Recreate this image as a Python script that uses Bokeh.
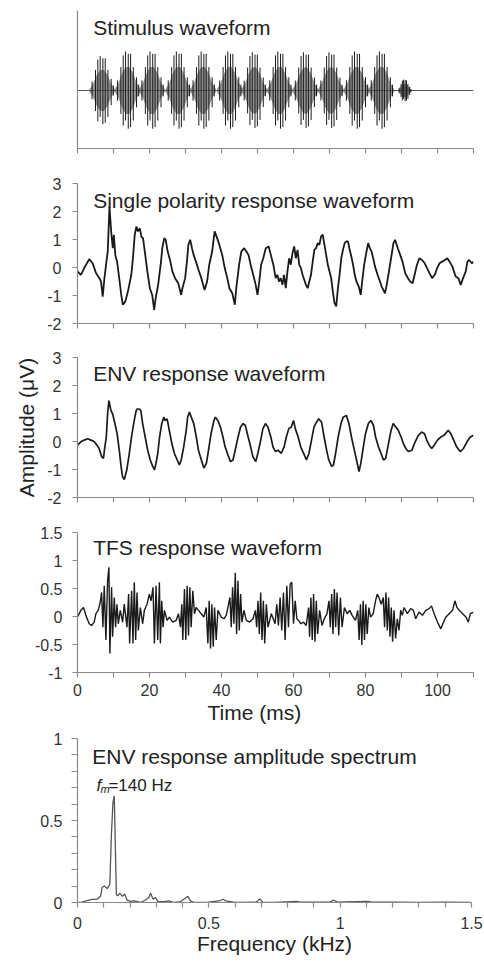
from bokeh.plotting import figure
from bokeh.layouts import column
from bokeh.models import Range1d, FixedTicker, Label, CustomJSTickFormatter, Title
from bokeh.embed import file_html
from bokeh.resources import INLINE

# ---------------- data ----------------
# Stimulus: AM tone bursts (140 Hz modulation)
stim_centers = [6.85, 13.9, 20.7, 28.0, 34.9, 42.3, 49.1, 56.2, 63.3, 70.4, 77.5, 84.4, 90.9]
stim_peaks = [0.88, 1.0, 1.0, 1.0, 1.0, 1.0, 0.98, 1.0, 0.98, 0.98, 1.0, 1.0, 0.28]
stim_widths = [1.0, 1.0, 1.0, 1.0, 1.0, 1.0, 1.0, 1.0, 1.0, 1.0, 1.0, 1.0, 0.55]
burst_line_off = [-2.8, -1.85, -1.2, -0.55, 0.2, 0.85, 1.6, 2.5, 3.1]
burst_line_top = [0.26, 0.6, 0.9, 1.0, 0.94, 0.94, 0.6, 0.34, 0.15]
burst_line_bot = [0.26, 0.6, 0.9, 0.77, 0.98, 0.94, 0.77, 0.43, 0.15]
burst_fill_off = [-3.55, -2.5, -1.5, -0.5, 0.5, 1.5, 2.5, 3.55]
burst_fill_amp = [0.03, 0.2, 0.45, 0.6, 0.6, 0.45, 0.2, 0.03]
stim_base_t = [0, 110]
stim_base_v = [0, 0]

# Single polarity response (uV)
sp_t = [0.0, 0.93, 1.87, 3.27, 4.2, 5.14, 6.07, 6.54, 7.0, 7.48, 7.94, 8.4, 8.88, 9.35, 9.8, 10.1,
        10.5, 11.0, 11.7, 12.15, 12.6, 13.3, 14.0, 14.95, 15.4, 15.9, 16.35, 16.8, 17.3, 17.75, 18.2,
        18.7, 19.4, 20.1, 20.75, 21.3, 21.7, 22.4, 23.2, 23.55, 24.1, 24.5, 25.05, 25.7, 26.35, 27.1,
        28.0, 28.8, 29.15, 29.9, 30.4, 30.8, 31.3, 31.8, 32.25, 32.9, 33.6, 34.4, 35.3, 36.0, 36.6,
        37.4, 38.1, 38.8, 39.4, 40.2, 40.9, 41.6, 42.2, 43.0, 43.7, 44.1, 44.9, 45.5, 46.3, 46.9, 47.5,
        48.1, 48.8, 49.5, 50.0, 50.5, 51.0, 51.6, 52.3, 53.1, 53.7, 54.4, 55.05, 55.51, 55.98, 56.45,
        56.92, 57.38, 57.85, 58.32, 58.79, 59.25, 59.72, 60.19, 60.65, 61.12, 61.59, 62.06, 62.52,
        62.99, 63.46, 63.93, 64.39, 64.86, 65.33, 65.79, 66.26, 66.73, 67.2, 67.66, 68.13, 68.6, 69.07,
        69.53, 70.0, 70.47, 70.93, 71.4, 71.87, 72.34, 72.8, 73.27, 73.74, 74.21, 74.67, 75.14, 75.61,
        76.07, 76.54, 77.01, 77.48, 78.13, 78.69, 79.07, 79.63, 80.28, 80.75, 81.21, 81.68, 82.15,
        82.62, 83.36, 84.02, 84.49, 85.42, 85.89, 86.36, 87.1, 87.76, 88.22, 88.97, 89.63, 90.28,
        91.03, 91.78, 92.43, 93.08, 93.64, 94.3, 94.95, 95.7, 96.45, 97.1, 97.76, 98.5, 99.25, 99.91,
        100.56, 101.31, 102.06, 102.71, 103.36, 104.11, 105.05, 105.79, 106.45, 107.1, 107.85,
        108.32, 108.79, 109.53, 110.0]
sp_v = [-0.14, -0.26, -0.02, 0.3, 0.15, -0.2, -0.38, -0.5, -1.04, -0.38, 0.1, 0.57, 2.18, 1.29, 0.69, 1.17,
        0.45, 0.21, -0.5, -0.98, -1.33, -1.21, -0.86, -0.26, 0.33, 1.17, 1.46, 1.29, 1.4, 1.1, 1.05,
        0.57, -0.14, -0.74, -0.98, -1.51, -1.1, -0.62, 0.21, 0.69, 1.05, 0.99, 0.57, 0.27, -0.14, -0.38,
        -0.56, -0.98, -0.74, -0.38, 0.21, 0.81, 0.99, 0.69, 0.45, 0.21, -0.08, -0.38, -0.8, -0.5, 0.1,
        0.57, 1.29, 1.05, 0.81, 0.45, -0.02, -0.38, -0.74, -0.92, -1.33, -0.74, 0.1, 0.57, 0.69, 0.57, 0.45,
        0.1, -0.26, -0.62, -0.98, -0.5, 0.1, 0.33, 0.69, 0.75, 0.45, 0.1, -0.38, -0.26, -0.5, -0.38,
        -0.62, -0.26, -0.74, -0.14, 0.33, 0.1, 0.51, 0.75, 0.33, 0.63, 0.1, -0.02, -0.26,
        -0.44, -0.62, -0.74, -0.5, -0.26, 0.21, 0.63, 0.69, 0.87, 0.81, 1.11, 1.17, 0.81, 0.45,
        0.1, -0.14, -0.38, -0.86, -1.27, -1.39, -0.74, -0.26, 0.33, 0.63, 0.87, 0.93, 0.93, 0.63,
        0.39, 0.1, -0.26, -0.5, -0.68, -0.98, -0.5, 0.1, 0.57, 0.87, 0.69, 0.57, 0.33,
        0.04, -0.26, -0.5, -0.68, -0.92, -0.62, -0.26, 0.33, 0.87, 0.99, 0.69, 0.45, 0.21,
        -0.2, -0.38, -0.5, -0.56, -0.26, 0.1, 0.33, 0.27, 0.15, -0.02, -0.2, -0.38, -0.26, -0.02,
        0.15, 0.21, 0.27, 0.33, 0.21, 0.04, -0.32, -0.38, -0.62, -0.38, -0.14,
        0.21, 0.27, 0.15, 0.21]

# ENV response (uV)
env_t = [0.0, 0.93, 1.86, 2.8, 3.7, 4.6, 5.4, 6.0, 6.7, 7.2, 7.6, 8.0, 8.36, 8.73, 9.3, 9.75, 10.2,
         11.0, 11.6, 12.1, 12.5, 13.0, 13.7, 14.4, 15.0, 15.6, 16.2, 16.5, 17.2, 17.6, 18.1, 18.8,
         19.5, 20.2, 20.9, 21.4, 21.8, 22.3, 22.8, 23.4, 24.0, 24.3, 24.9, 25.5, 26.2, 26.9, 27.7,
         28.3, 28.8, 29.5, 30.2, 30.6, 31.1, 31.6, 32.3, 33.0, 33.6, 34.4, 35.1, 35.8, 36.4, 37.1,
         37.9, 38.3, 39.0, 39.7, 40.4, 41.0, 41.8, 42.5, 43.2, 43.8, 44.6, 45.3, 46.0, 46.6, 47.4,
         48.1, 48.7, 49.5, 50.1, 50.9, 51.5, 52.2, 52.9, 53.7, 54.3, 55.0, 55.7, 56.6, 57.4, 58.0,
         58.7, 59.4, 60.0, 60.5, 61.3, 62.0, 63.0, 63.6, 64.3, 65.0, 65.7, 66.4, 67.0, 67.8, 68.5,
         69.2, 69.8, 70.6, 71.1, 71.7, 72.4, 73.2, 73.8, 74.7, 75.4, 76.1, 76.9, 77.5, 78.2, 78.7,
         79.4, 80.0, 80.8, 81.5, 82.2, 82.8, 83.6, 84.3, 85.0, 85.6, 86.4, 87.1, 87.7, 88.4, 89.1,
         89.9, 90.5, 91.2, 91.9, 92.9, 93.8, 94.7, 95.6, 96.4, 97.0, 97.7, 98.4, 99.1, 100.0, 100.9,
         101.8, 103.0, 103.7, 104.5, 105.3, 106.3, 107.2, 108.2, 109.1, 110.0]
env_v = [-0.13, -0.01, 0.05, 0.1, 0.05, 0.0, -0.13, -0.25, -0.54, -0.6, -0.19, 0.16, 0.99, 1.46, 1.1, 0.99, 0.75,
         0.28, -0.31, -0.89, -1.25, -1.36, -1.01, -0.42, 0.16, 0.64, 1.05, 1.16, 1.16, 1.1, 0.64, 0.16,
         -0.31, -0.66, -0.89, -1.01, -0.78, -0.42, 0.16, 0.64, 0.87, 0.75, 0.81, 0.4, -0.07, -0.42, -0.66,
         -0.84, -0.66, -0.19, 0.4, 0.87, 1.05, 0.87, 0.64, 0.16, -0.31, -0.66, -0.95, -0.78, -0.31, 0.28,
         0.75, 0.87, 0.75, 0.52, 0.16, -0.19, -0.48, -0.72, -0.66, -0.31, 0.16, 0.52, 0.64, 0.58, 0.16,
         -0.19, -0.54, -0.72, -0.42, 0.05, 0.46, 0.64, 0.52, 0.16, -0.19, -0.36, -0.31, -0.42, -0.19, 0.16,
         0.46, 0.52, 0.75, 0.46, 0.16, -0.19, -0.48, -0.66, -0.42, 0.05, 0.52, 0.69, 0.81, 0.69, 0.16,
         -0.31, -0.66, -0.89, -0.84, -0.42, 0.16, 0.64, 0.87, 0.93, 0.64, 0.16, -0.31, -0.66, -1.07, -0.78,
         -0.19, 0.28, 0.64, 0.75, 0.58, 0.16, -0.19, -0.42, -0.66, -0.6, -0.07, 0.4, 0.64, 0.52, 0.4,
         0.16, -0.07, -0.25, -0.36, -0.31, -0.01, 0.22, 0.34, 0.28, 0.05, -0.13, -0.25, -0.13, 0.05, 0.16,
         0.22, 0.4, 0.28, 0.05, -0.19, -0.36, -0.25, -0.01, 0.16, 0.22]

# TFS response (uV)
tfs_t = [0.0, 0.93, 1.67, 2.32, 3.25, 3.9, 4.64, 5.11, 5.76, 6.31, 6.69, 7.06, 7.43, 7.89, 8.36, 8.73,
         9.0, 9.47, 9.75, 10.21, 10.58, 10.96, 11.33, 11.88, 12.53, 13.0, 13.74, 14.2, 14.48, 15.04,
         15.41, 15.78, 16.16, 16.53, 16.9, 17.46, 18.1, 18.57, 19.31, 19.96, 20.43, 20.98, 21.36,
         21.82, 22.28, 22.75, 23.03, 23.4, 23.77, 24.14, 24.88, 25.53, 26.46, 27.39, 28.04, 28.6,
         28.97, 29.25, 29.71, 30.08, 30.45, 30.83, 31.2, 31.57, 32.03, 32.5, 32.96, 33.61, 34.35,
         35.1, 35.75, 36.21, 36.58, 36.95, 37.33, 37.7, 38.07, 38.53, 39.0, 39.93, 40.67, 41.32,
         41.97, 42.34, 42.71, 43.08, 43.45, 43.83, 44.2, 44.57, 44.94, 45.31, 45.68, 46.24, 46.89,
         47.82, 48.75, 49.4, 49.77, 50.14, 50.51, 50.88, 51.25, 51.63, 52.0, 52.46, 52.92, 53.85,
         54.88, 55.35, 55.81, 56.28, 56.74, 57.21, 57.67, 58.14, 58.6, 59.07, 59.53, 60.0, 60.47,
         60.93, 61.4, 62.05, 62.79, 63.53, 64.19, 64.47, 64.84, 65.21, 65.58, 65.95, 66.33, 66.7,
         67.26, 67.91, 68.56, 69.3, 69.86, 70.23, 70.6, 70.98, 71.35, 71.72, 72.09, 72.56, 73.02,
         73.49, 74.14, 74.88, 75.63, 76.28, 77.21, 77.86, 78.23, 78.6, 78.98, 79.35, 79.72, 80.09,
         80.47, 80.93, 81.4, 82.14, 82.79, 83.26, 83.72, 84.37, 84.93, 85.3, 85.67, 86.05, 86.42,
         86.79, 87.16, 87.53, 87.91, 88.37, 88.84, 89.3, 89.77, 90.23, 90.7, 91.63, 92.56, 93.3,
         93.95, 94.88, 95.81, 96.74, 97.67, 98.33, 99.07, 100.0, 100.93, 101.67, 102.33, 103.26,
         104.19, 104.84, 105.4, 106.05, 106.98, 107.91, 108.56, 109.12, 110.0]
tfs_v = [-0.01, 0.11, 0.16, 0.02, -0.13, -0.16, -0.1, 0.05, 0.11, 0.25, 0.43, -0.19, 0.55, -0.42, 0.64, 0.88,
         -0.66, 0.52, -0.36, 0.34, -0.19, 0.22, -0.13, 0.11, -0.1, 0.22, -0.19, 0.4, -0.48, 0.46,
         -0.48, 0.61, -0.42, 0.43, -0.25, 0.16, -0.13, 0.11, 0.22, 0.4, 0.28, 0.52, -0.48,
         0.55, -0.42, 0.61, -0.48, 0.28, -0.19, 0.11, -0.07, -0.01, -0.1, -0.07, 0.05, -0.19,
         0.22, -0.42, 0.49, -0.42, 0.55, -0.34, 0.52, -0.19, 0.46, 0.05, 0.16, 0.11, 0.05,
         -0.01, 0.16, -0.48, 0.28, -0.57, 0.22, -0.54, 0.16, -0.42, 0.11, -0.01, -0.04, 0.02,
         0.22, 0.34, -0.19, 0.52, -0.13, 0.78, -0.31, 0.64, -0.25, 0.4, -0.1, 0.11, -0.07,
         -0.1, -0.04, 0.11, -0.19, 0.28, -0.31, 0.43, -0.42, 0.28, -0.48, 0.22, -0.19, 0.05,
         -0.13, 0.22, -0.16, 0.34, -0.25, 0.43, -0.42, 0.55, -0.19, 0.58, 0.61, -0.13, 0.28,
         -0.04, -0.07, -0.13, -0.1, -0.16, 0.16, -0.36, 0.34, -0.42, 0.4, -0.45, 0.28, -0.31,
         0.11, -0.16, -0.04, 0.05, 0.28, -0.19, 0.4, -0.31, 0.49, -0.19, 0.43, -0.34, 0.34,
         -0.19, 0.16, 0.05, 0.11, 0.02, -0.07, 0.11, -0.42, 0.22, -0.51, 0.28, -0.42, 0.22,
         -0.31, 0.16, -0.01, 0.05, 0.28, 0.4, 0.34, 0.22, 0.34, -0.19, 0.43, -0.25, 0.34,
         -0.36, 0.16, -0.45, 0.11, -0.39, -0.04, -0.25, 0.11, 0.02, 0.16, 0.05, 0.14, 0.11,
         -0.04, 0.08, 0.02, 0.11, 0.14, 0.19, 0.05, -0.1, -0.22, -0.1, -0.01, 0.05,
         0.11, 0.28, 0.16, 0.11, 0.05, -0.01, -0.1, 0.05, 0.08]

# ENV amplitude spectrum
spec_f = [0.0, 0.011, 0.05, 0.075, 0.088, 0.094, 0.103, 0.113, 0.123, 0.129, 0.135, 0.14, 0.142, 0.148,
          0.153, 0.161, 0.171, 0.179, 0.189, 0.202, 0.215, 0.24, 0.259, 0.272, 0.278, 0.288, 0.297,
          0.306, 0.329, 0.348, 0.367, 0.39, 0.411, 0.42, 0.43, 0.445, 0.5, 0.544, 0.554, 0.564, 0.6,
          0.68, 0.694, 0.705, 0.75, 0.836, 0.85, 0.96, 0.976, 0.99, 1.02, 1.109, 1.12, 1.2, 1.3, 1.4, 1.5]
spec_v = [0.0, 0.0, 0.018, 0.02, 0.04, 0.093, 0.1, 0.085, 0.11, 0.41, 0.61, 0.65, 0.5, 0.05,
          0.04, 0.057, 0.037, 0.052, 0.015, 0.007, 0.01, 0.0, 0.015, 0.03, 0.057, 0.02, 0.03,
          0.005, 0.005, 0.01, 0.0, 0.003, 0.027, 0.037, 0.01, 0.0, 0.002, 0.012, 0.02, 0.01, 0.0,
          0.002, 0.022, 0.002, 0.0, 0.006, 0.002, 0.002, 0.014, 0.002, 0.004, 0.006, 0.002, 0.002, 0.001, 0.002, 0.0]

time_ticks = [0, 10, 20, 30, 40, 50, 60, 70, 80, 90, 100, 110]
time_major = [0, 20, 40, 60, 80, 100]
time_minor = [10, 30, 50, 70, 90, 110]

assert len(sp_t) == len(sp_v)
assert len(env_t) == len(env_v)
assert len(tfs_t) == len(tfs_v)
assert len(spec_f) == len(spec_v)

# ---------------- styling ----------------
FONT = "Liberation Sans"
AXC = "#8a8a8a"
TXT = "#222222"
LINE = "#1a1a1a"
PLAIN = CustomJSTickFormatter(code="return String(tick);")
BLANK = CustomJSTickFormatter(code="return '';")


def make_fig(top, fh, bottom, y0, y1, left=76, right=12, x0=0, x1=110):
    p = figure(frame_width=484 - left - right, frame_height=fh,
               min_border_top=top, min_border_bottom=bottom,
               min_border_left=left, min_border_right=right,
               x_range=Range1d(x0, x1), y_range=Range1d(y0, y1),
               output_backend="svg", toolbar_location=None, tools="")
    p.grid.visible = False
    p.outline_line_color = None
    p.border_fill_color = "white"
    p.background_fill_color = "white"
    for ax in (p.xaxis[0], p.yaxis[0]):
        ax.axis_line_color = AXC
        ax.axis_line_width = 1.2
        ax.major_tick_line_color = AXC
        ax.minor_tick_line_color = AXC
        ax.major_tick_line_width = 1.2
        ax.minor_tick_line_width = 1.2
        ax.major_tick_in = 0
        ax.major_tick_out = 5
        ax.minor_tick_in = 0
        ax.minor_tick_out = 5
        ax.major_label_text_font = FONT
        ax.major_label_text_font_size = "16px"
        ax.major_label_text_color = "#333333"
    return p


def title(p, x, y, text):
    p.add_layout(Label(x=x, y=y, text=text, text_font=FONT, text_font_size="21px",
                       text_color=TXT, text_baseline="alphabetic", text_align="left"))


def time_axis_hidden(p):
    p.xaxis.ticker = FixedTicker(ticks=time_ticks)
    p.xaxis.formatter = BLANK
    p.xaxis.major_label_text_font_size = "1px"
    p.xaxis.major_label_standoff = 0


# ---- Panel 1: stimulus ----
p1 = make_fig(10, 138, 17, -1.487, 2.051)
time_axis_hidden(p1)
p1.yaxis.ticker = FixedTicker(ticks=[])
p1.yaxis.major_tick_out = 0
p1.yaxis.formatter = BLANK
p1.yaxis.major_label_text_font_size = "1px"

for c, a, w in zip(stim_centers, stim_peaks, stim_widths):
    fx = [c + o * w for o in burst_fill_off]
    fv = [m * a for m in burst_fill_amp]
    p1.varea(x=fx, y1=[-v for v in fv], y2=fv, fill_color="#929292", fill_alpha=1.0)
p1.line(stim_base_t, stim_base_v, line_color="#555555", line_width=1.2)
seg_x, seg_y0, seg_y1 = [], [], []
for c, a, w in zip(stim_centers, stim_peaks, stim_widths):
    for o, tp, bt in zip(burst_line_off, burst_line_top, burst_line_bot):
        seg_x.append(c + o * w)
        seg_y0.append(-bt * a)
        seg_y1.append(tp * a)
p1.segment(x0=seg_x, y0=seg_y0, x1=seg_x, y1=seg_y1, line_color="#1a1a1a", line_width=1.0)
title(p1, 4.36, 1.61, "Stimulus waveform")

# ---- Panel 2: single polarity ----
p2 = make_fig(18, 140, 17, -2, 3)
time_axis_hidden(p2)
p2.yaxis.ticker = FixedTicker(ticks=[-2, -1, 0, 1, 2, 3])
p2.yaxis.formatter = PLAIN
p2.yaxis.major_label_standoff = 11
p2.line(sp_t, sp_v, line_color=LINE, line_width=1.8)
title(p2, 4.36, 2.39, "Single polarity response waveform")

# ---- Panel 3: ENV ----
p3 = make_fig(17, 140, 18, -2, 3)
time_axis_hidden(p3)
p3.yaxis.ticker = FixedTicker(ticks=[-2, -1, 0, 1, 2, 3])
p3.yaxis.formatter = PLAIN
p3.yaxis.major_label_standoff = 11
p3.yaxis.axis_label = "Amplitude (\u03bcV)"
p3.yaxis.axis_label_text_font = FONT
p3.yaxis.axis_label_text_font_size = "21px"
p3.yaxis.axis_label_text_font_style = "normal"
p3.yaxis.axis_label_text_color = TXT
p3.yaxis.axis_label_standoff = 6
p3.line(env_t, env_v, line_color=LINE, line_width=1.7)
title(p3, 4.36, 2.43, "ENV response waveform")

# ---- Panel 4: TFS ----
p4 = make_fig(17, 140, 53, -1, 1.5)
p4.xaxis.ticker = FixedTicker(ticks=time_major, minor_ticks=time_minor)
p4.xaxis.formatter = PLAIN
p4.xaxis.major_label_standoff = 6
p4.yaxis.ticker = FixedTicker(ticks=[-1, -0.5, 0, 0.5, 1, 1.5])
p4.yaxis.formatter = PLAIN
p4.yaxis.major_label_standoff = 10
p4.line(tfs_t, tfs_v, line_color=LINE, line_width=1.4)
title(p4, 4.36, 1.24, "TFS response waveform")
p4.add_layout(Title(text="Time (ms)", align="left", offset=130, standoff=0,
                    text_font=FONT, text_font_size="21px", text_font_style="normal",
                    text_color=TXT), "below")

# ---- Panel 5: spectrum ----
p5 = make_fig(13, 164, 63, 0, 1, left=77, right=13, x0=0, x1=1.5)
p5.xaxis.ticker = FixedTicker(ticks=[0, 0.5, 1, 1.5],
                              minor_ticks=[0.1, 0.2, 0.3, 0.4, 0.6, 0.7, 0.8, 0.9, 1.1, 1.2, 1.3, 1.4])
p5.xaxis.formatter = PLAIN
p5.xaxis.major_label_standoff = 9
p5.xaxis.axis_label = "Frequency (kHz)"
p5.xaxis.axis_label_text_font = FONT
p5.xaxis.axis_label_text_font_size = "21px"
p5.xaxis.axis_label_text_font_style = "normal"
p5.xaxis.axis_label_text_color = TXT
p5.xaxis.axis_label_standoff = 0
p5.yaxis.ticker = FixedTicker(ticks=[0, 0.5, 1],
                              minor_ticks=[0.1, 0.2, 0.3, 0.4, 0.6, 0.7, 0.8, 0.9])
p5.yaxis.formatter = PLAIN
p5.yaxis.major_label_standoff = 9
p5.yaxis.major_tick_out = 6
p5.yaxis.minor_tick_out = 6
p5.line(spec_f, spec_v, line_color="#555555", line_width=1.3)
title(p5, 0.056, 0.89, "ENV response amplitude spectrum")
p5.add_layout(Label(x=0.072, y=0.713, text="f", text_font=FONT, text_font_size="17px",
                    text_font_style="italic", text_color=TXT, text_baseline="alphabetic"))
p5.add_layout(Label(x=0.072, y=0.713, text="m", text_font=FONT, text_font_size="11px",
                    text_font_style="italic", text_color=TXT, text_baseline="alphabetic",
                    x_offset=4, y_offset=-3))
p5.add_layout(Label(x=0.072, y=0.713, text="=140 Hz", text_font=FONT, text_font_size="17px",
                    text_color=TXT, text_baseline="alphabetic", x_offset=12))

layout = column(p1, p2, p3, p4, p5, spacing=0)
open("out.html", "w").write(file_html(layout, INLINE))
